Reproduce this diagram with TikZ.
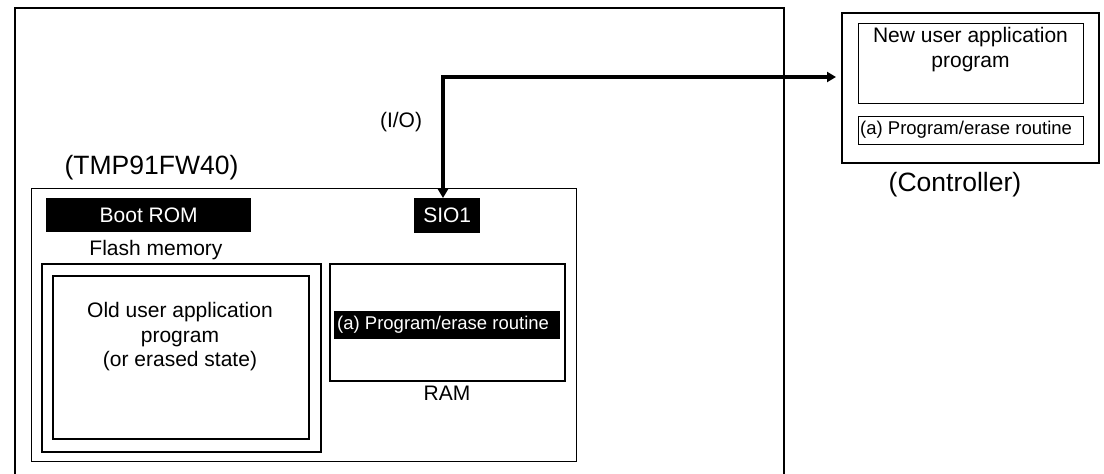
\documentclass[tikz,border=0pt]{standalone}
\usepackage{fontspec}
\setmainfont{Liberation Sans}
\usetikzlibrary{arrows.meta}
\begin{document}
\begin{tikzpicture}[x=1pt,y=-1pt,
  rbox/.style={draw, inner sep=0pt, anchor=north west},
  blk/.style={fill=black, text=white, inner sep=0pt, anchor=north west},
  lbl/.style={inner sep=0pt, align=center, font=\fontsize{21}{24.5}\selectfont},
  big/.style={inner sep=0pt, font=\fontsize{26.5}{30}\selectfont},
  small/.style={inner sep=0pt, font=\fontsize{18.5}{22}\selectfont}]
\useasboundingbox[fill=white] (0,0) rectangle (1104,474);
% outer system box (bottom edge lies outside the picture)
\begin{scope}
\clip (0,0) rectangle (1104,474);
\node (sys) [rbox, line width=2pt, minimum width=769pt, minimum height=490pt] at (14,7) {};
\end{scope}
% chip
\node (chip) [rbox, line width=1.3pt, minimum width=545pt, minimum height=273pt] at (31,188) {};
\node (chiplbl) [big] at (151.5,168) {(TMP91FW40)};
\node (boot) [blk, minimum width=205pt, minimum height=34pt, font=\fontsize{21}{24}\selectfont] at (46,198) {Boot ROM};
\node (sio) [blk, minimum width=66pt, minimum height=35pt, font=\fontsize{21}{24}\selectfont] at (414,198) {SIO1};
\node (flashlbl) [lbl] at (156,250) {Flash memory};
\node (flash) [rbox, line width=2pt, minimum width=279pt, minimum height=188pt] at (41,263) {};
\node (old) [rbox, line width=2pt, minimum width=256pt, minimum height=163pt] at (52,275) {};
\node (oldtxt) [lbl] at (180,337) {Old user application\\program\\(or erased state)};
\node (ram) [rbox, line width=1.5pt, minimum width=235pt, minimum height=117pt] at (329,263) {};
\node (ramrt) [blk, minimum width=226pt, minimum height=28pt] at (334,311) {};
\node (ramrttxt) [small, text=white, anchor=west] at (337,325) {(a) Program/erase routine};
\node (ramlbl) [lbl] at (447,393) {RAM};
\node (io) [lbl] at (401,122) {(I/O)};
% controller
\node (ctrl) [rbox, line width=2pt, minimum width=257pt, minimum height=150pt] at (841,12) {};
\node (newp) [rbox, line width=1.3pt, minimum width=225pt, minimum height=80pt] at (858,23) {};
\node (newtxt) [lbl] at (970.5,49.5) {New user application\\program};
\node (cprt) [rbox, line width=1.3pt, minimum width=225pt, minimum height=28pt] at (858,116) {};
\node (cprttxt) [small, anchor=west] at (860,130) {(a) Program/erase routine};
\node (ctrllbl) [big] at (955,185) {(Controller)};
% connector
\coordinate (corner) at (443,77);
\draw[line width=4pt, line join=miter,
  {Triangle[length=9pt,width=10pt]}-{Triangle[length=9pt,width=10pt]}, shorten >=5pt]
  (sio.north -| corner) -- (corner) -- (ctrl.west |- corner);
\end{tikzpicture}
\end{document}
